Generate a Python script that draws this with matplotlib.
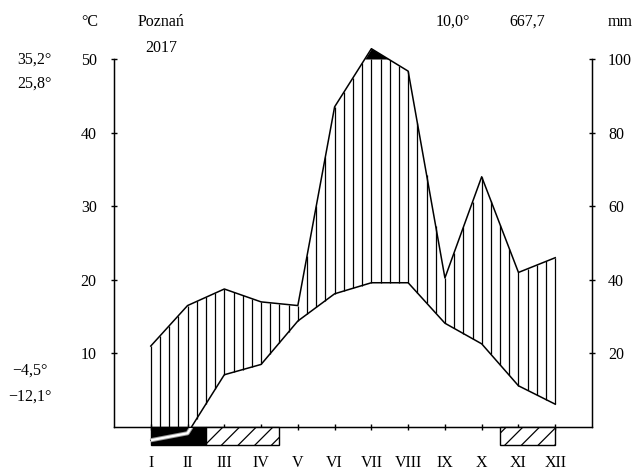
import numpy as np
import matplotlib
matplotlib.use("Agg")
import matplotlib.pyplot as plt
from matplotlib.patches import Rectangle
from matplotlib.transforms import blended_transform_factory

plt.rcParams['font.family'] = ['Liberation Serif', 'DejaVu Serif']
plt.rcParams['hatch.linewidth'] = 0.9

# ---- data ----
months = ["I", "II", "III", "IV", "V", "VI", "VII", "VIII", "IX", "X", "XI", "XII"]
temp = [-1.8, -0.85, 7.1, 8.5, 14.4, 18.1, 19.6, 19.6, 14.1, 11.3, 5.6, 3.1]   # °C
precip = [22, 33, 37.5, 34, 33, 87, 128, 96.7, 40.5, 68, 42, 46]            # mm
station = "Poznań"
year = "2017"
mean_temp = "10,0°"
total_precip = "667,7"
abs_max = "35,2°"
max_warm = "25,8°"
min_cold = "−4,5°"
abs_min = "−12,1°"
temp_ticks = [10, 20, 30, 40, 50]
precip_ticks = [20, 40, 60, 80, 100]
frost_sure = [(1.0, 2.5)]
frost_prob = [(2.5, 4.5), (10.5, 12.0)]

W, H = 635, 470
fig = plt.figure(figsize=(W / 100, H / 100), dpi=100)
ax = fig.add_axes([114 / W, 43 / H, 478 / W, 368 / H])
ax.set_xlim(0, 13)
ax.set_ylim(0, 50)

x = np.arange(1, 13)
t = np.array(temp)
p = np.array(precip, dtype=float)
pt = np.where(p <= 100, p / 2.0, 50 + (p - 100) / 20.0)

fs = 11.5

# hatch lines (humid period)
xs = np.arange(1, 12.0001, 0.25)
ti = np.interp(xs, x, t)
pi = np.interp(xs, x, pt)
lo = np.maximum(ti, 0)
hi = np.minimum(pi, 50)
m = hi > lo
ax.vlines(xs[m], lo[m], hi[m], color='black', lw=0.9, zorder=2)

# black area above 100 mm
xf = np.linspace(1, 12, 2201)
pf = np.interp(xf, x, pt)
ax.fill_between(xf, 50, pf, where=pf > 50, color='black', lw=0, clip_on=False, zorder=2)

# lines
ax.plot(x, pt, color='black', lw=1.1, clip_on=False, zorder=3)
ax.plot(x, t, color='black', lw=1.1, clip_on=False, zorder=3)

# frost boxes
bh = 2.45
for a, b in frost_sure:
    ax.add_patch(Rectangle((a, -bh), b - a, bh, facecolor='black', edgecolor='black',
                           lw=1, clip_on=False, zorder=4))
for a, b in frost_prob:
    ax.add_patch(Rectangle((a, -bh), b - a, bh, facecolor='white', edgecolor='black',
                           hatch='//', lw=1, clip_on=False, zorder=4))

# temperature below zero inside black box
tn = np.interp(xf, x, t)
mk = tn <= 0
ax.plot(xf[mk], tn[mk], color='#999999', lw=3.0, clip_on=False, zorder=5, solid_capstyle='butt')
ax.plot(xf[mk], tn[mk], color='white', lw=1.6, clip_on=False, zorder=6, solid_capstyle='butt')

# axes styling
ax.spines['top'].set_visible(False)
for s in ['left', 'right', 'bottom']:
    ax.spines[s].set_linewidth(1.0)
ax.set_yticks(temp_ticks)
ax.set_yticklabels([str(v) for v in temp_ticks], fontsize=fs)
ax.tick_params(axis='y', direction='inout', length=5, width=1, pad=10)
ax.set_xticks(x)
ax.set_xticklabels([])
ax.tick_params(axis='x', direction='inout', length=5, width=1)
tr = blended_transform_factory(ax.transData, fig.transFigure)
for xi, lab in zip(x, months):
    ax.text(xi, 1 - 463 / H, lab, transform=tr, ha='center', va='center', fontsize=fs)

ax2 = ax.twinx()
ax2.set_ylim(0, 100)
ax2.spines['top'].set_visible(False)
ax2.set_yticks(precip_ticks)
ax2.set_yticklabels([str(v) for v in precip_ticks], fontsize=fs)
ax2.tick_params(axis='y', direction='inout', length=5, width=1, pad=9)

def ftext(px, py, s, ha='center'):
    fig.text(px / W, 1 - py / H, s, ha=ha, va='center', fontsize=fs)

ftext(90, 22, "°C")
ftext(161, 22, station)
ftext(161, 48, year)
ftext(453, 22, mean_temp)
ftext(527, 22, total_precip)
ftext(620, 22, "mm")
ftext(34, 60, abs_max)
ftext(34, 84, max_warm)
ftext(30, 371, min_cold)
ftext(30, 397, abs_min)

fig.savefig("out.png", dpi=100)
